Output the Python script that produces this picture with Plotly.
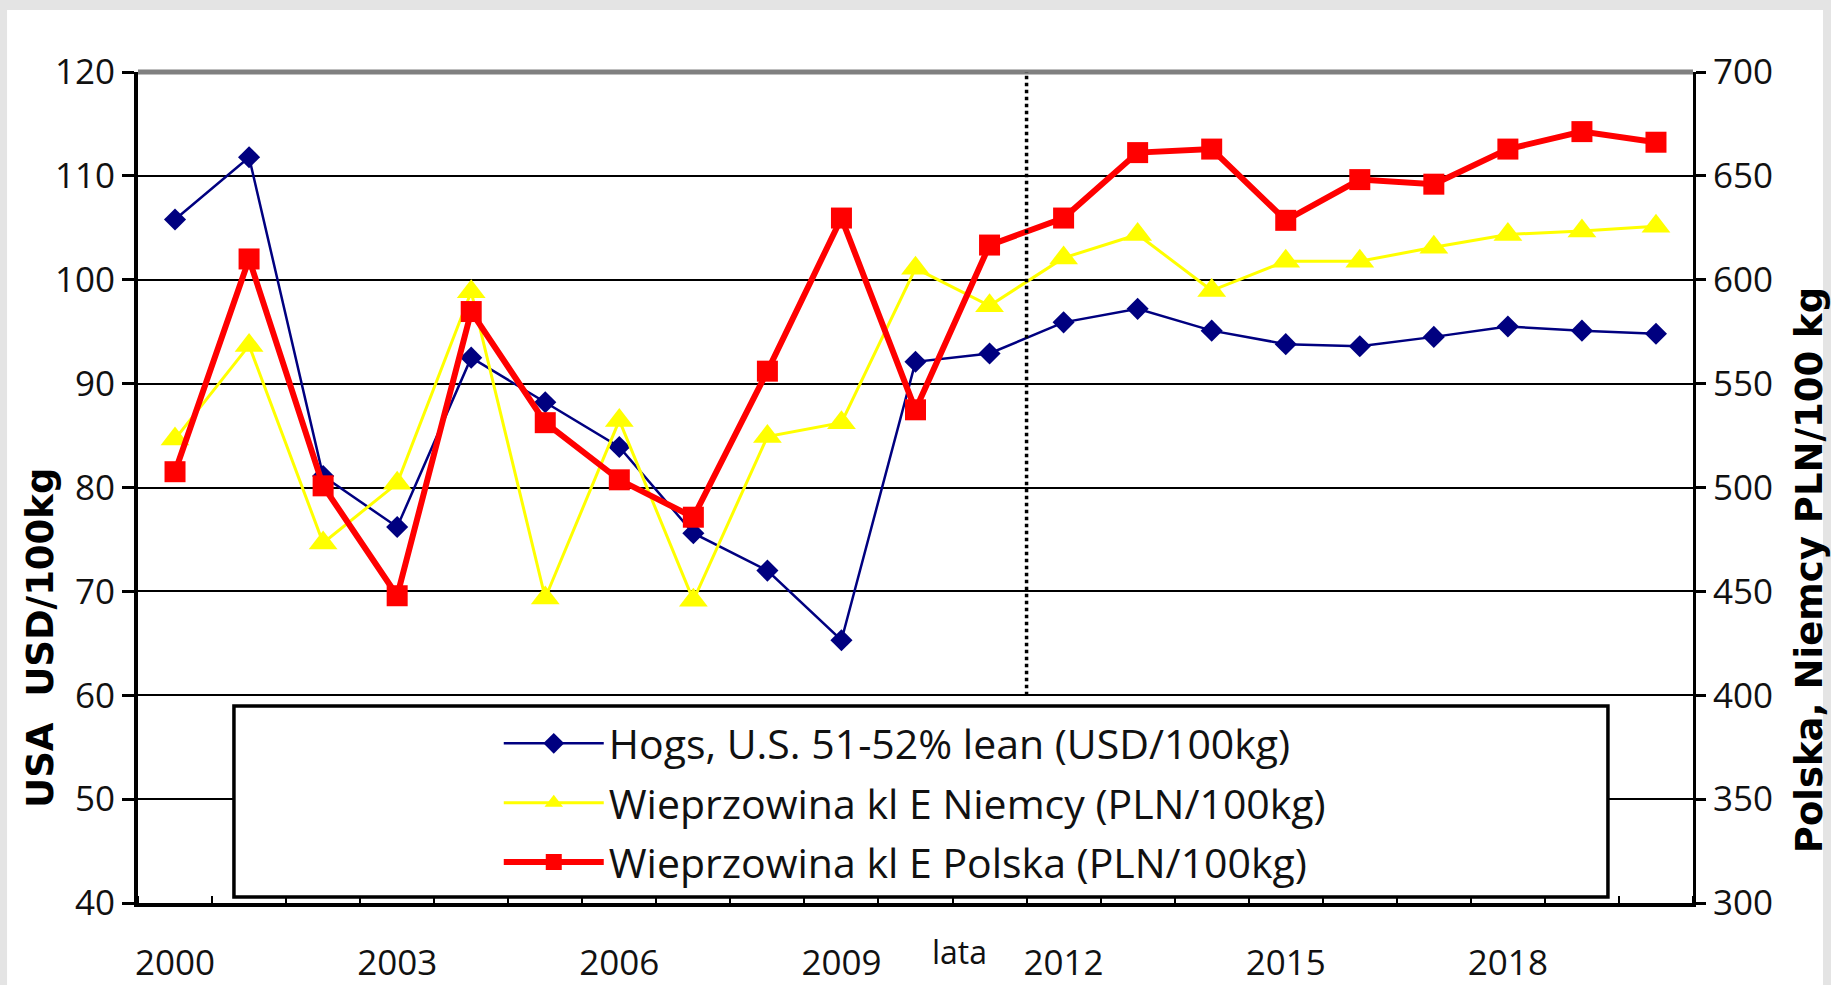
import plotly.graph_objects as go

years = list(range(2000, 2021))
hogs_usd = [105.8, 111.8, 81.1, 76.2, 92.5, 88.2, 83.9, 75.6, 72.0, 65.3, 92.1,
            92.9, 95.9, 97.2, 95.1, 93.8, 93.6, 94.5, 95.5, 95.1, 94.8]
niemcy_pln = [523.3, 568.4, 473.3, 502.0, 594.2, 446.8, 532.3, 445.7, 524.5, 531.2, 605.5,
              587.5, 610.5, 621.8, 594.8, 608.9, 608.9, 615.6, 621.8, 623.5, 625.7]
polska_pln = [507.6, 610.0, 500.8, 447.9, 584.7, 531.2, 503.7, 485.7, 556.0, 629.7, 537.4,
              616.7, 629.7, 661.2, 662.9, 628.6, 648.2, 646.0, 662.9, 671.3, 666.2]
xtick_years = [2000, 2003, 2006, 2009, 2012, 2015, 2018]
names = ["Hogs, U.S. 51-52% lean (USD/100kg)",
         "Wieprzowina kl E Niemcy (PLN/100kg)",
         "Wieprzowina kl E Polska (PLN/100kg)"]

TICKFONT = dict(family="Open Sans", size=35, color="#111111")

fig = go.Figure()
fig.add_trace(go.Scatter(x=years, y=hogs_usd, name=names[0], mode="lines+markers",
                         line=dict(color="#000080", width=2.5),
                         marker=dict(symbol="diamond", size=17, color="#000080"),
                         yaxis="y", legendgroup="a"))
fig.add_trace(go.Scatter(x=years, y=niemcy_pln, name=names[1], mode="lines+markers",
                         line=dict(color="#FFFF00", width=3),
                         marker=dict(symbol="triangle-up", size=25, color="#FFFF00"),
                         yaxis="y2", legendgroup="b"))
fig.add_trace(go.Scatter(x=years, y=polska_pln, name=names[2], mode="lines+markers",
                         line=dict(color="#FF0000", width=6),
                         marker=dict(symbol="square", size=21, color="#FF0000"),
                         yaxis="y2", legendgroup="c"))

shapes = [
    # white page area
    dict(type="rect", xref="paper", yref="paper", x0=-0.0842, x1=1.0836, y0=-0.12, y1=1.0746,
         fillcolor="white", line=dict(width=0), layer="below"),
    # top gray border
    dict(type="line", xref="paper", yref="paper", x0=0, x1=1, y0=1, y1=1,
         line=dict(color="#808080", width=5), layer="above"),
    # vertical dotted divider
    dict(type="line", xref="x", yref="y", x0=2011.5, x1=2011.5, y0=60, y1=120,
         line=dict(color="black", width=3.5, dash="dot"), layer="above"),
    # legend box
    dict(type="rect", xref="paper", yref="paper", x0=0.0617, x1=0.9453, y0=0.0072, y1=0.237,
         fillcolor="white", line=dict(color="black", width=3.5), layer="above"),
]

fig.update_layout(
    width=1831, height=985,
    margin=dict(l=138, r=138, t=72, b=82),
    paper_bgcolor="#e4e4e4",
    plot_bgcolor="rgba(0,0,0,0)",
    showlegend=True,
    legend=dict(x=0.232, y=0.232, xanchor="left", yanchor="top",
                bgcolor="rgba(0,0,0,0)", borderwidth=0,
                font=dict(family="Open Sans", size=41, color="#111111"),
                tracegroupgap=3, itemwidth=100),
    xaxis=dict(range=[1999.5, 2020.5], tickmode="array", tickvals=xtick_years,
               ticktext=[str(y) for y in xtick_years], ticks="", showgrid=False,
               showline=True, linecolor="black", linewidth=4, zeroline=False,
               tickfont=TICKFONT, ticklabelstandoff=26, automargin=False,
               minor=dict(tick0=1999.5, dtick=1, ticks="inside", ticklen=7,
                          tickwidth=2, tickcolor="black", showgrid=False)),
    yaxis=dict(range=[40, 120], dtick=10, showgrid=True, gridcolor="black", gridwidth=2,
               showline=True, linecolor="black", linewidth=4, ticks="outside",
               ticklen=12, tickwidth=3, tickcolor="black", zeroline=False,
               tickfont=TICKFONT, automargin=False),
    yaxis2=dict(range=[300, 700], dtick=50, overlaying="y", side="right", showgrid=False,
                showline=True, linecolor="black", linewidth=3, ticks="outside",
                ticklen=10, tickwidth=3, tickcolor="black", zeroline=False,
                tickfont=TICKFONT, automargin=False),
    shapes=shapes,
    annotations=[
        dict(text="USA  USD/100kg", xref="paper", yref="paper", x=-0.0624, y=0.319,
             textangle=-90, showarrow=False, xanchor="center", yanchor="middle",
             font=dict(family="DejaVu Sans", size=37, color="black", weight="bold")),
        dict(text="Polska, Niemcy PLN/100 kg", xref="paper", yref="paper", x=1.075, y=0.40,
             textangle=-90, showarrow=False, xanchor="center", yanchor="middle",
             font=dict(family="DejaVu Sans", size=37, color="black", weight="bold")),
        dict(text="lata", xref="x", yref="paper", x=2010.6, y=-0.058,
             showarrow=False, xanchor="center", yanchor="middle",
             font=dict(family="Open Sans", size=32, color="#111111")),
    ],
)

fig.write_html("out.html", config={"displayModeBar": False},
               post_script="document.body.style.margin='0';"
                           "document.body.style.background='#e4e4e4';")
